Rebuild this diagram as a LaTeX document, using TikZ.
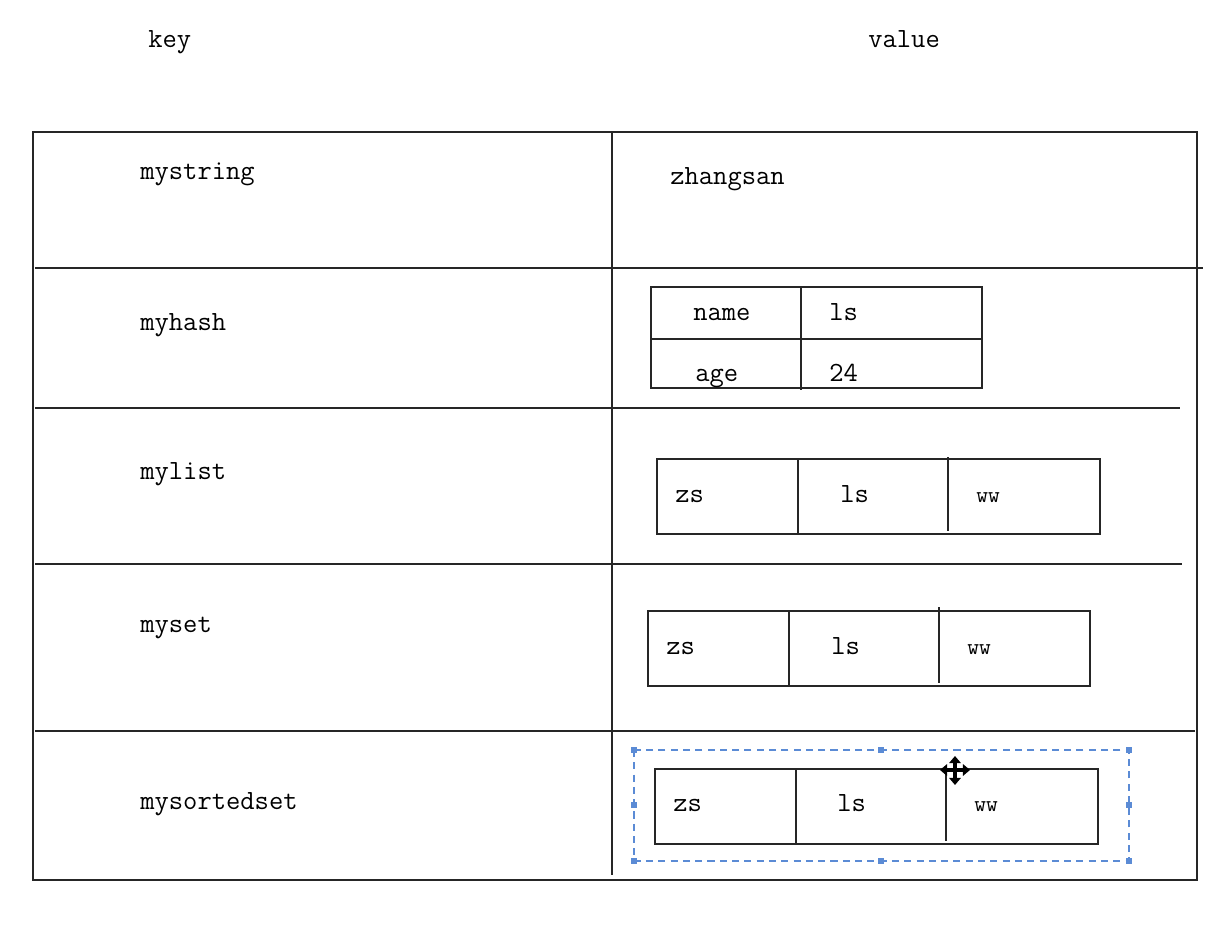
\documentclass[tikz,border=0pt]{standalone}
\usepackage{fontspec}
\usetikzlibrary{arrows.meta}
\definecolor{selblue}{HTML}{5B8BD5}
\tikzset{
  lbl/.style={font=\ttfamily\fontsize{15.8}{18}\selectfont, anchor=base west, inner sep=0pt},
  small/.style={lbl, font=\ttfamily\fontsize{13}{15}\selectfont},
  rule/.style={line width=0.8pt, draw=black!85},
  sel/.style={draw=selblue, line width=0.6pt, dash pattern=on 4pt off 3pt},
  handle/.style={fill=selblue, minimum size=3pt, inner sep=0pt}
}

\begin{document}
\begin{tikzpicture}[x=0.02cm, y=-0.02cm]
\useasboundingbox (0,0) rectangle (1218,936);
% headings
\node [lbl] (key) at (148,48) {key};
\node [lbl] (value) at (868,48) {value};
% outer table
\draw [rule] (33,132) rectangle (1197,880);
\draw [rule] (612,132) -- (612,875);
\draw [rule] (35,268) -- (1203,268);
\draw [rule] (35,408) -- (1180,408);
\draw [rule] (35,564) -- (1182,564);
\draw [rule] (35,731) -- (1195,731);
% keys
\node [lbl] (kstring) at (140,179) {mystring};
\node [lbl] (khash) at (140,330) {myhash};
\node [lbl] (klist) at (140,479) {mylist};
\node [lbl] (kset) at (140,632) {myset};
\node [lbl] (kzset) at (140,809) {mysortedset};
% string value
\node [lbl] (vstring) at (670,185) {zhangsan};
% hash value
\draw [rule] (651,287) rectangle (982,388);
\draw [rule] (651,339) -- (982,339);
\draw [rule] (801,287) -- (801,390);
\node [lbl] (hname) at (693,320) {name};
\node [lbl] (hls) at (829,320) {ls};
\node [lbl] (hage) at (695,381) {age};
\node [lbl] (h24) at (829,381) {24};
% list value
\draw [rule] (657,459) rectangle (1100,534);
\draw [rule] (798,459) -- (798,534);
\draw [rule] (948,457) -- (948,531);
\node [lbl] (lzs) at (675,502) {zs};
\node [lbl] (lls) at (840,502) {ls};
\node [small] (lww) at (976,502) {ww};
% set value
\draw [rule] (648,611) rectangle (1090,686);
\draw [rule] (789,611) -- (789,686);
\draw [rule] (939,607) -- (939,683);
\node [lbl] (szs) at (666,654) {zs};
\node [lbl] (sls) at (831,654) {ls};
\node [small] (sww) at (967,654) {ww};
% sorted set value
\draw [rule] (655,769) rectangle (1098,844);
\draw [rule] (796,769) -- (796,844);
\draw [rule] (946,770) -- (946,841);
\node [lbl] (zzs) at (673,811) {zs};
\node [lbl] (zls) at (837,811) {ls};
\node [small] (zww) at (974,811) {ww};
% selection frame
\draw [sel] (634,750) rectangle (1129,861);
\foreach \p [count=\i] in {(634,750),(881,750),(1129,750),(634,805),(1129,805),(634,861),(881,861),(1129,861)}
  \node [handle] (h\i) at \p {};
% move cursor
\draw [line width=1.9pt, {Triangle[length=4pt,width=6.5pt]}-{Triangle[length=4pt,width=6.5pt]}] (955,756) -- (955,785);
\draw [line width=1.9pt, {Triangle[length=4pt,width=6.5pt]}-{Triangle[length=4pt,width=6.5pt]}] (940,770) -- (970,770);
\end{tikzpicture}
\end{document}
